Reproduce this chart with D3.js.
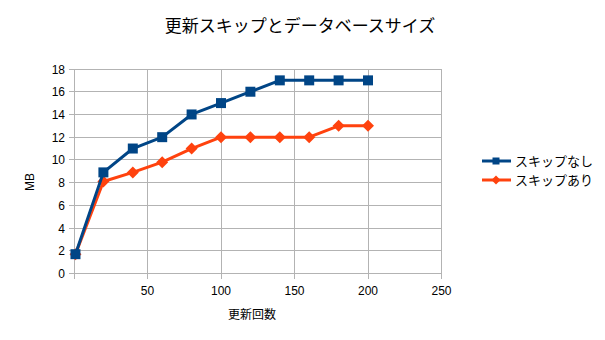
<!DOCTYPE html>
<html><head><meta charset="utf-8">
<script src="https://cdn.jsdelivr.net/npm/d3@7"></script>
<style>
html,body{margin:0;padding:0;background:#fff;}
text{font-family:"Liberation Sans","DejaVu Sans","Noto Sans CJK JP",sans-serif;fill:#000;}
</style></head>
<body><svg id="chart" width="605" height="340"></svg>
<script>
// Update count vs. database size (MB)
const updates = [1, 20, 40, 60, 80, 100, 120, 140, 160, 180, 200];
const noSkip = [1.7, 8.9, 11, 12, 14, 15, 16, 17, 17, 17, 17];
const withSkip = [1.7, 8.1, 8.9, 9.8, 11, 12, 12, 12, 12, 13, 13];
const xTicks = [50, 100, 150, 200, 250];
const yTicks = [0, 2, 4, 6, 8, 10, 12, 14, 16, 18];
const seriesNames = ["スキップなし", "スキップあり"];
const seriesColors = ["#004586", "#ff420e"];

const svg = d3.select("#chart");
const x = d3.scaleLinear().domain([0, 250]).range([74, 441.5]);
const y = d3.scaleLinear().domain([0, 18]).range([273.5, 69]);

// grid
const grid = svg.append("g");
grid.selectAll("line.h").data(yTicks).join("line")
  .attr("x1", 69).attr("x2", 441.5)
  .attr("y1", d => y(d)).attr("y2", d => y(d))
  .attr("stroke", "#b3b3b3").attr("stroke-width", 1).attr("shape-rendering", "crispEdges");
grid.selectAll("line.v").data([0, ...xTicks]).join("line")
  .attr("x1", d => x(d)).attr("x2", d => x(d))
  .attr("y1", 69).attr("y2", 278.5)
  .attr("stroke", "#b3b3b3").attr("stroke-width", 1).attr("shape-rendering", "crispEdges");

// axis labels
svg.append("g").selectAll("text").data(yTicks).join("text")
  .attr("x", 65).attr("y", d => y(d) + 4.5).attr("text-anchor", "end")
  .attr("font-size", 12).text(d => d);
svg.append("g").selectAll("text").data(xTicks).join("text")
  .attr("x", d => x(d)).attr("y", 295).attr("text-anchor", "middle")
  .attr("font-size", 12).text(d => d);

svg.append("text").attr("x", 300).attr("y", 32).attr("text-anchor", "middle")
  .attr("font-size", 17).text("更新スキップとデータベースサイズ");
svg.append("text").attr("x", 252).attr("y", 319).attr("text-anchor", "middle")
  .attr("font-size", 12).text("更新回数");
svg.append("text").attr("transform", "translate(34,182) rotate(-90)").attr("text-anchor", "middle")
  .attr("font-size", 12).text("MB");

const line = d3.line().x((d, i) => x(updates[i])).y(d => y(d));
// square-shaped diamond (rotated square), as in office charts
const rhombus = r => `M0,${-r}L${r},0L0,${r}L${-r},0Z`;
const squarePath = h => `M${-h},${-h}H${h}V${h}H${-h}Z`;

function drawSeries(vals, color, shape) {
  const g = svg.append("g");
  g.append("path").datum(vals).attr("d", line).attr("fill", "none")
    .attr("stroke", color).attr("stroke-width", 3).attr("stroke-linejoin", "round");
  g.selectAll("path.m").data(vals).join("path").attr("class", "m")
    .attr("d", shape).attr("fill", color)
    .attr("transform", (d, i) => `translate(${x(updates[i])},${y(d)})`);
}
drawSeries(withSkip, seriesColors[1], rhombus(6));
drawSeries(noSkip, seriesColors[0], squarePath(5));

// legend
const legendShapes = [squarePath(3.5), rhombus(4.5)];
const leg = svg.append("g");
seriesNames.forEach((name, i) => {
  const yy = 161 + i * 19;
  leg.append("line").attr("x1", 482).attr("x2", 511).attr("y1", yy).attr("y2", yy)
    .attr("stroke", seriesColors[i]).attr("stroke-width", 3);
  leg.append("path").attr("d", legendShapes[i])
    .attr("fill", seriesColors[i]).attr("transform", `translate(496,${yy})`);
  leg.append("text").attr("x", 515).attr("y", yy + 5).attr("font-size", 13).text(name);
});
</script></body></html>
